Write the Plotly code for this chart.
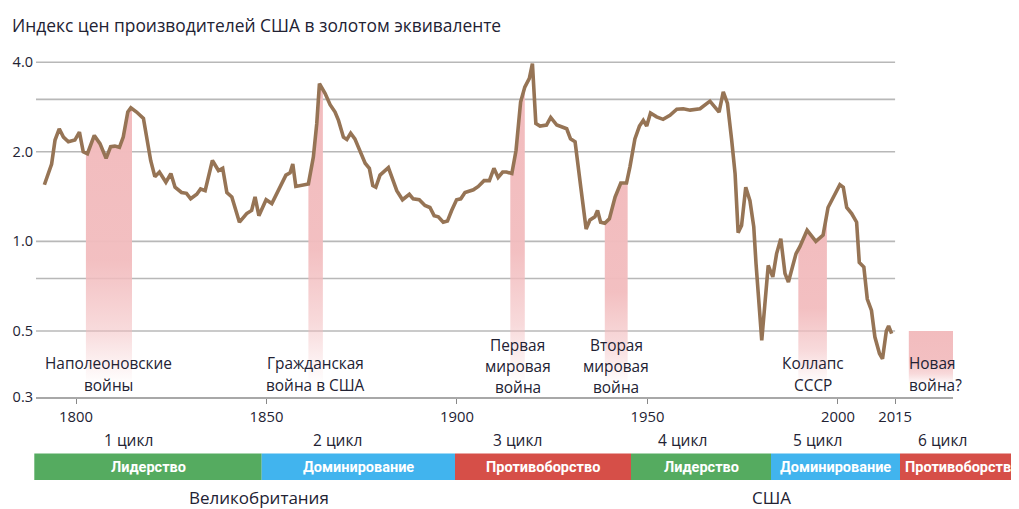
import numpy as np
import plotly.graph_objects as go

# ---------------- data ----------------
title_text = "Индекс цен производителей США в золотом эквиваленте"

years = [1791.7, 1793.6, 1794.5, 1795.6, 1796.7, 1798.0, 1799.7, 1800.9, 1801.9, 1803.0,
         1804.8, 1806.3, 1807.9, 1809.1, 1810.2, 1811.4, 1812.4, 1813.6, 1814.4, 1815.9,
         1817.7, 1818.6, 1819.6, 1820.7, 1821.9, 1823.6, 1824.9, 1826.0, 1827.7, 1829.0,
         1830.1, 1831.7, 1832.7, 1833.9, 1835.8, 1837.4, 1838.5, 1839.6, 1840.9, 1842.9,
         1844.8, 1846.1, 1847.0, 1848.0, 1849.9, 1851.4, 1853.5, 1855.1, 1856.2, 1856.9,
         1857.7, 1859.7, 1861.0, 1862.3, 1863.2, 1863.9, 1865.4, 1866.7, 1868.0, 1868.9,
         1870.2, 1871.1, 1872.1, 1873.2, 1875.0, 1875.9, 1877.0, 1877.9, 1878.7, 1879.8,
         1882.0, 1884.2, 1885.7, 1887.5, 1888.5, 1890.1, 1891.6, 1892.9, 1894.0, 1895.1,
         1896.4, 1897.5, 1898.6, 1899.9, 1901.0, 1902.1, 1904.3, 1905.6, 1907.1, 1908.5,
         1909.7, 1910.8, 1912.0, 1913.0, 1914.4, 1915.5, 1916.7, 1917.8, 1919.0, 1919.8,
         1920.7, 1921.8, 1923.5, 1924.6, 1926.2, 1927.5, 1928.8, 1929.8, 1931.0, 1932.5,
         1933.9, 1934.9, 1936.2, 1936.9, 1937.7, 1938.8, 1940.0, 1941.5, 1943.0, 1944.5,
         1945.4, 1946.7, 1947.9, 1948.9, 1949.8, 1950.8, 1952.4, 1954.1, 1955.9, 1957.7,
         1959.4, 1961.2, 1963.8, 1966.4, 1967.5, 1968.8, 1969.9, 1971.0, 1972.1, 1973.0,
         1973.8, 1974.7, 1975.8, 1976.9, 1977.9, 1978.5, 1980.0, 1980.8, 1981.7, 1982.9,
         1983.9, 1985.0, 1986.1, 1987.0, 1987.8, 1989.0, 1990.0, 1991.9, 1994.2, 1996.1,
         1997.4, 1999.2, 2000.5, 2001.4, 2002.3, 2003.6, 2004.9, 2005.6, 2006.8, 2007.7,
         2008.8, 2009.7, 2010.9, 2011.7, 2012.7, 2013.3, 2014.1]

values = [1.55, 1.82, 2.19, 2.39, 2.24, 2.16, 2.19, 2.33, 2.00, 1.97,
          2.27, 2.13, 1.90, 2.08, 2.09, 2.07, 2.24, 2.72, 2.81, 2.72,
          2.59, 2.24, 1.87, 1.65, 1.71, 1.58, 1.69, 1.52, 1.46, 1.45,
          1.39, 1.44, 1.50, 1.48, 1.87, 1.73, 1.76, 1.46, 1.41, 1.16,
          1.24, 1.27, 1.41, 1.22, 1.38, 1.34, 1.52, 1.67, 1.70, 1.82,
          1.53, 1.55, 1.56, 1.92, 2.49, 3.39, 3.14, 2.88, 2.72, 2.55,
          2.24, 2.20, 2.31, 2.21, 1.97, 1.83, 1.76, 1.54, 1.52, 1.67,
          1.77, 1.48, 1.38, 1.44, 1.39, 1.38, 1.32, 1.30, 1.22, 1.21,
          1.16, 1.17, 1.27, 1.38, 1.39, 1.46, 1.49, 1.53, 1.60, 1.60,
          1.76, 1.64, 1.71, 1.71, 1.69, 2.02, 2.94, 3.30, 3.53, 3.96,
          2.49, 2.44, 2.46, 2.61, 2.46, 2.42, 2.39, 2.21, 2.16, 1.52,
          1.10, 1.18, 1.21, 1.27, 1.16, 1.15, 1.19, 1.41, 1.57, 1.57,
          1.78, 2.21, 2.44, 2.55, 2.44, 2.70, 2.62, 2.57, 2.65, 2.78,
          2.79, 2.76, 2.79, 2.96, 2.86, 2.72, 3.18, 2.91, 2.19, 1.69,
          1.07, 1.13, 1.52, 1.37, 1.12, 0.84, 0.465, 0.60, 0.83, 0.76,
          0.91, 1.02, 0.78, 0.73, 0.80, 0.91, 0.96, 1.09, 1.00, 1.05,
          1.30, 1.45, 1.55, 1.52, 1.30, 1.24, 1.16, 0.85, 0.82, 0.64,
          0.586, 0.477, 0.42, 0.403, 0.50, 0.52, 0.49]

war_start = [1802.6, 1861.0, 1914.0, 1938.8, 1989.6]
war_end = [1814.7, 1864.8, 1917.8, 1944.8, 1997.1]
war_labels = [["Наполеоновские", "войны"],
              ["Гражданская", "война в США"],
              ["Первая", "мировая", "война"],
              ["Вторая", "мировая", "война"],
              ["Коллапс", "СССР"]]

future_start, future_end, future_top = 2018.6, 2030.2, 0.5
future_label = ["Новая", "война?"]

grid_values = [4.0, 3.0, 2.0, 1.0, 0.75, 0.5]
ytick_vals = [0.3, 0.5, 1.0, 2.0, 4.0]
ytick_text = ["0.3", "0.5", "1.0", "2.0", "4.0"]
xtick_vals = [1800, 1850, 1900, 1950, 2000, 2015]

cycle_labels = ["1 цикл", "2 цикл", "3 цикл", "4 цикл", "5 цикл", "6 цикл"]
phase_labels = ["Лидерство", "Доминирование", "Противоборство",
                "Лидерство", "Доминирование", "Противоборство"]
phase_colors = ["#55ab60", "#41b4ee", "#d64f48", "#55ab60", "#41b4ee", "#d64f48"]
countries = ["Великобритания", "США"]

# ---------------- layout geometry (reference pixel coords) ----------------
OFF = 8                      # page body margin of the html page
W_PX, H_PX = 1019 - OFF, 509 - OFF
PLOT_L, PLOT_T = 36, 59      # reference-pixel plot-area edges
PW, PH = 917, 338
M_L, M_T = PLOT_L - OFF, PLOT_T - OFF
M_R = W_PX - M_L - PW
M_B = H_PX - M_T - PH
X_RANGE = [1789.5, 2030.2]
Y_RANGE = [np.log10(0.3), np.log10(4.1)]
BAND_FLOOR = 0.33
FONT = "Open Sans, Noto Sans, sans-serif"
NARROW = "Liberation Sans Narrow, Arial Narrow, Roboto, sans-serif"
TXT = "#222233"


def xp(px):
    return (px - PLOT_L) / PW


def yp(py):
    return (PLOT_T + PH - py) / PH


LINE_COLOR = "#967455"
PINK = "242,188,190"
grad = dict(type="vertical",
            colorscale=[[0, f"rgba({PINK},0.0)"], [0.2, f"rgba({PINK},0.55)"],
                        [0.45, f"rgba({PINK},0.95)"], [1, f"rgba({PINK},1)"]])

fig = go.Figure()

ly = np.log10(values)
for s, e in zip(war_start, war_end):
    inner = [y for y in years if s < y < e]
    bx = [s] + inner + [e]
    by = list(10 ** np.interp(bx, years, ly))
    fig.add_trace(go.Scatter(x=bx + [e, s], y=by + [BAND_FLOOR, BAND_FLOOR],
                             fill="toself", mode="none", fillgradient=grad,
                             hoverinfo="skip", showlegend=False))

fig.add_trace(go.Scatter(x=[future_start, future_end, future_end, future_start],
                         y=[future_top, future_top, BAND_FLOOR, BAND_FLOOR],
                         fill="toself", mode="none", fillgradient=grad,
                         hoverinfo="skip", showlegend=False))

fig.add_trace(go.Scatter(x=years, y=values, mode="lines",
                         line=dict(color=LINE_COLOR, width=3.6),
                         hoverinfo="skip", showlegend=False))

shapes = []
for g in grid_values:
    shapes.append(dict(type="line", xref="x", yref="y", x0=X_RANGE[0], x1=2015,
                       y0=g, y1=g, line=dict(color="#b8b8b8", width=1.6), layer="below"))

# cycle bars
bounds_px = [34.3, 261.7, 455, 631, 771, 900, 1024]
for i, col in enumerate(phase_colors):
    shapes.append(dict(type="rect", xref="paper", yref="paper",
                       x0=xp(bounds_px[i]), x1=xp(bounds_px[i + 1]),
                       y0=yp(480), y1=yp(453.5), fillcolor=col,
                       line=dict(width=0), layer="above"))

annotations = []
annotations.append(dict(text=title_text, xref="paper", yref="paper", x=xp(10), y=yp(25),
                        xanchor="left", yanchor="middle", showarrow=False,
                        font=dict(family=FONT, size=17.4, color=TXT)))

line_ys_2 = [363, 385]
line_ys_3 = [345, 366, 387]
for s, e, lab in zip(war_start, war_end, war_labels):
    ys = line_ys_2 if len(lab) == 2 else line_ys_3
    for t, py in zip(lab, ys):
        annotations.append(dict(text=t, xref="x", yref="paper", x=(s + e) / 2, y=yp(py),
                                xanchor="center", yanchor="middle", showarrow=False,
                                font=dict(family=FONT, size=15.4, color=TXT)))
for t, py in zip(future_label, line_ys_2):
    annotations.append(dict(text=t, xref="x", yref="paper", x=future_start, y=yp(py),
                            xanchor="left", yanchor="middle", showarrow=False,
                            xshift=-2,
                            font=dict(family=FONT, size=15.4, color=TXT)))

cycle_px = [128, 337.5, 517, 682, 817, 942]
for t, px in zip(cycle_labels, cycle_px):
    annotations.append(dict(text=t, xref="paper", yref="paper", x=xp(px), y=yp(440),
                            xanchor="center", yanchor="middle", showarrow=False,
                            font=dict(family=FONT, size=15.5, color=TXT)))

for i, t in enumerate(phase_labels):
    cx = (bounds_px[i] + bounds_px[i + 1]) / 2
    annotations.append(dict(text="<b>" + t + "</b>", xref="paper", yref="paper", x=xp(cx),
                            y=yp(467), xanchor="center", yanchor="middle", showarrow=False,
                            font=dict(family=NARROW, size=14.5, color="white")))

for t, px in zip(countries, [259, 771]):
    annotations.append(dict(text=t, xref="paper", yref="paper", x=xp(px), y=yp(497),
                            xanchor="center", yanchor="middle", showarrow=False,
                            font=dict(family=FONT, size=17, color=TXT)))

fig.update_layout(
    width=W_PX, height=H_PX,
    margin=dict(l=M_L, r=M_R, t=M_T, b=M_B, autoexpand=False),
    paper_bgcolor="white", plot_bgcolor="white",
    shapes=shapes, annotations=annotations,
    xaxis=dict(range=X_RANGE, showgrid=False, zeroline=False, showline=True,
               linecolor="#a8a8a8", linewidth=1.6, ticks="outside", ticklen=5,
               tickcolor="#888", tickwidth=1.3, tickvals=xtick_vals,
               tickfont=dict(family=FONT, size=14.8, color=TXT), fixedrange=True),
    yaxis=dict(type="log", range=Y_RANGE, showgrid=False, zeroline=False, showline=False,
               tickvals=ytick_vals, ticktext=ytick_text, ticks="", ticklabelstandoff=2,
               tickfont=dict(family=FONT, size=14.5, color=TXT), fixedrange=True),
)

fig.write_html("out.html")
